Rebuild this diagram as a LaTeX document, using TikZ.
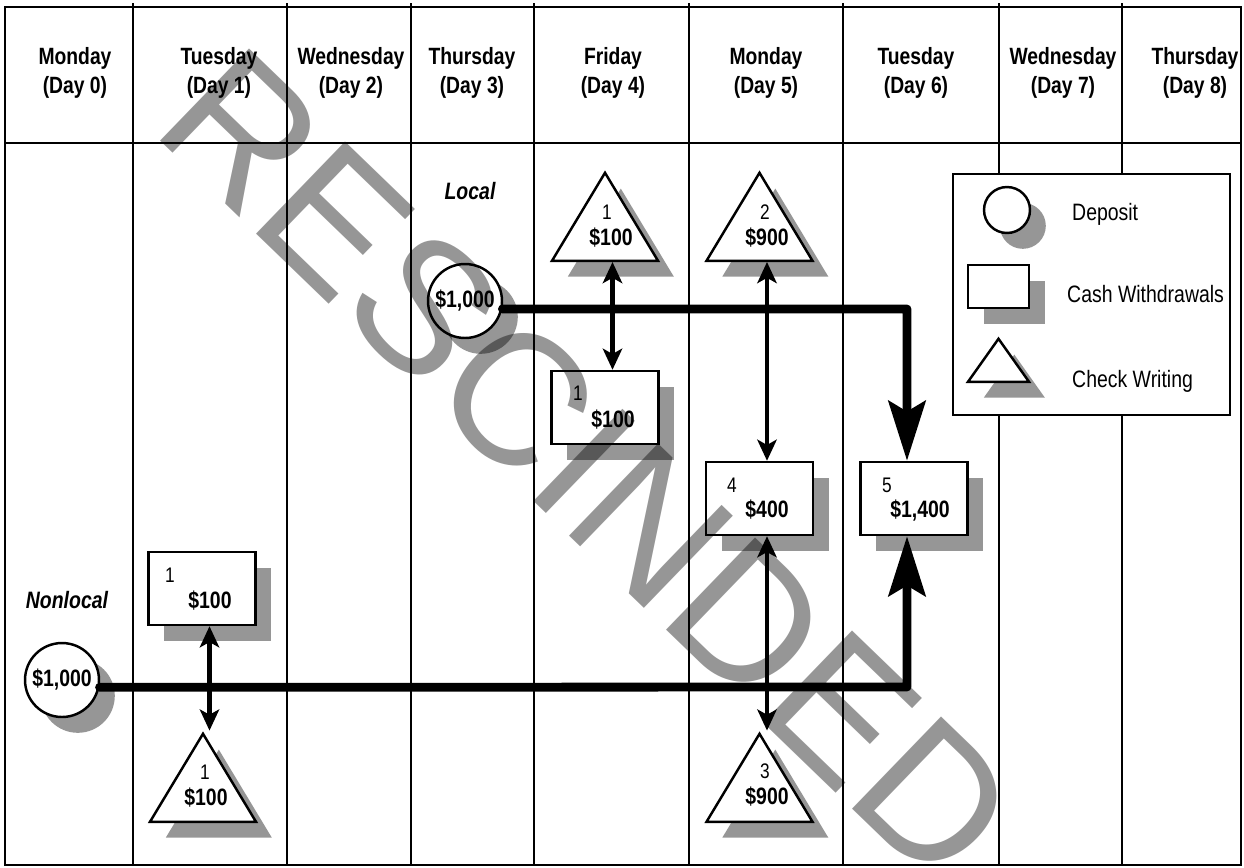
\documentclass[tikz,border=0pt]{standalone}
\usepackage{fontspec}
\setmainfont{Liberation Sans}[FakeStretch=0.82]
\newfontfamily\stampfont{Liberation Sans}
\usetikzlibrary{arrows.meta,shapes.geometric,shadows}
\definecolor{dropgray}{RGB}{150,150,150}
\tikzset{
  grid/.style={line width=1.1pt},
  gray drop/.style={drop shadow={shadow xshift=9pt,shadow yshift=-9pt,
                    fill=dropgray,opacity=1}},
  dayhead/.style={align=center,font=\fontsize{13.4}{16.5}\selectfont\bfseries},
  cashbox/.style={rectangle,draw,line width=1.4pt,fill=white,inner sep=0pt,
                  minimum width=2.14cm,minimum height=1.46cm,gray drop},
  checktri/.style={isosceles triangle,isosceles triangle stretches,
                   shape border rotate=90,draw,line width=1.4pt,fill=white,
                   inner sep=0pt,minimum width=2.12cm,minimum height=1.76cm,
                   anchor=south,gray drop},
  deposit/.style={circle,draw,line width=1.4pt,fill=white,inner sep=0pt,
                  minimum size=1.48cm,gray drop,
                  font=\fontsize{13.5}{15}\selectfont\bfseries},
  num/.style={anchor=base,font=\fontsize{12}{14}\selectfont},
  amt/.style={anchor=base,font=\fontsize{13.5}{15}\selectfont\bfseries},
  keytext/.style={anchor=base west,font=\fontsize{13.5}{15}\selectfont},
  region/.style={anchor=base,font=\fontsize{13.5}{15}\selectfont\bfseries\itshape},
  dblarrow/.style={{Stealth[length=12pt,width=11pt,inset=3pt]}-{Stealth[length=12pt,width=11pt,inset=3pt]},
                   line width=2.3pt},
  flow/.style={-{Stealth[length=34pt,width=21pt,inset=6pt]},line width=5pt,
               line cap=round,line join=round},
  stamp/.style={anchor=base west,inner sep=0pt,rotate=-44,text=black,
                text opacity=0.41,font=\stampfont\fontsize{106}{106}\selectfont},
}
\begin{document}
\begin{tikzpicture}[x=0.02cm,y=-0.02cm]
  \useasboundingbox (0,0) rectangle (1244,867);

  % calendar grid
  \draw[grid] (5,7) rectangle (1241,865);
  \draw[grid] (5,143) -- (1241,143);
  \foreach \x in {133,287,411,534,689,843,999,1122}
    \draw[grid] (\x,3) -- (\x,865);
  \foreach \x/\d/\n in {75/Monday/0,219/Tuesday/1,351/Wednesday/2,
                        472/Thursday/3,613/Friday/4,766/Monday/5,
                        916/Tuesday/6,1063/Wednesday/7,1195/Thursday/8}
    \node[dayhead] (day\n) at (\x,73) {\d\\(Day \n)};

  % key
  \node[draw,line width=1.4pt,fill=white,inner sep=0pt,
        minimum width=5.54cm,minimum height=4.82cm] (key) at (1091.5,294.5) {};
  \node[deposit,minimum size=0.92cm] (kdep) at (1007,210) {};
  \node[cashbox,minimum width=1.22cm,minimum height=0.86cm] (kcash) at (998.5,286.5) {};
  \node[checktri,minimum width=1.22cm,minimum height=0.86cm] (kchk) at (998.5,383) {};
  \node[keytext] (kdeptxt) at (1066,220) {Deposit};
  \node[keytext] (kcashtxt) at (1061,302) {Cash Withdrawals};
  \node[keytext] (kchktxt) at (1066,387) {Check Writing};

  % region labels
  \node[region] (local) at (470,199) {Local};
  \node[region] (nonlocal) at (67,608) {Nonlocal};

  % deposits
  \node[deposit] (dnl) at (62,680) {\$1,000};
  \node[deposit] (dl) at (465,301) {\$1,000};

  % cash withdrawals
  \node[cashbox] (bw1) at (202,588.5) {};
  \node[cashbox] (bw2) at (605,407.5) {};
  \node[cashbox] (bw4) at (759.5,498.5) {};
  \node[cashbox] (bw5) at (914,498.5) {};
  \node[num,anchor=base west] (bw1n) at (159,582) {1};
  \node[amt] (bw1a) at (210,608) {\$100};
  \node[num,anchor=base west] (bw2n) at (567,400) {1};
  \node[amt] (bw2a) at (613,427) {\$100};
  \node[num,anchor=base west] (bw4n) at (721,492) {4};
  \node[amt] (bw4a) at (767,517) {\$400};
  \node[num,anchor=base west] (bw5n) at (876,492) {5};
  \node[amt] (bw5a) at (920,517) {\$1,400};

  % checks
  \node[checktri] (ct1) at (203,823) {};
  \node[checktri] (ct2) at (605,262) {};
  \node[checktri] (ct3) at (759.5,262) {};
  \node[checktri] (ct4) at (759.5,823) {};
  \node[num] (ct1n) at (205,779) {1};
  \node[amt] (ct1a) at (206,805) {\$100};
  \node[num] (ct2n) at (607,219) {1};
  \node[amt] (ct2a) at (611,245) {\$100};
  \node[num] (ct3n) at (765,219) {2};
  \node[amt] (ct3a) at (767,245) {\$900};
  \node[num] (ct4n) at (765,778) {3};
  \node[amt] (ct4a) at (767,804) {\$900};

  % transfers
  \draw[dblarrow] ([xshift=0.15cm]bw1.south) -- ([xshift=0.15cm]bw1.south |- ct1.north);
  \draw[dblarrow] ([xshift=0.15cm]ct2.south) -- ([xshift=0.15cm]bw2.north);
  \draw[dblarrow] ([xshift=0.15cm]ct3.south) -- ([xshift=0.15cm]bw4.north);
  \draw[dblarrow] ([xshift=0.15cm]bw4.south) -- ([xshift=0.15cm]bw4.south |- ct4.north);

  \coordinate (lturn) at (907,309);
  \coordinate (nlturn) at (907,687);
  \draw[flow] (dl.-12) -- (lturn) -- (lturn |- bw5.north);
  \draw[flow] (dnl.-11) -- (nlturn) -- (nlturn |- bw5.south);

  % stamp
  \begin{scope}
    \clip (0,0) rectangle (1244,867);
    \node[stamp] (rescinded) at (149,130) {RESCINDED};
  \end{scope}
\end{tikzpicture}
\end{document}
